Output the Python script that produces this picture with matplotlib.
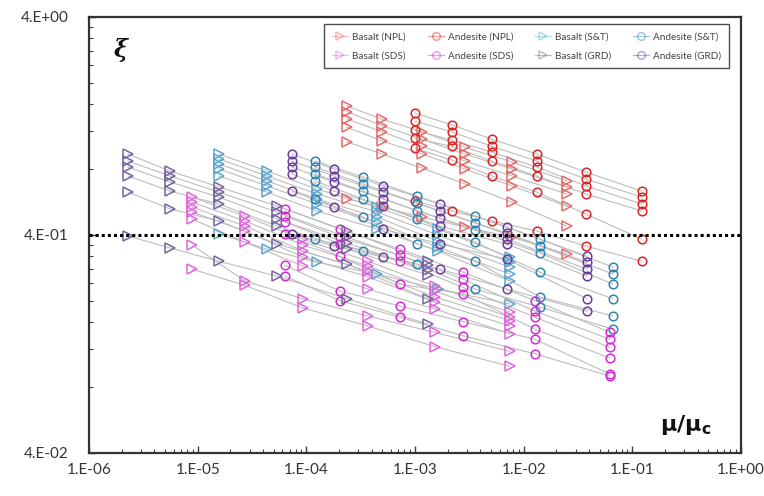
import matplotlib
matplotlib.use('Agg')
import matplotlib.pyplot as plt
from matplotlib.ticker import FixedLocator, FixedFormatter, NullFormatter
from matplotlib.lines import Line2D

# ---------------- data ----------------
npl_basalt_x = [2.37e-4, 4.97e-4, 1.16e-3, 2.88e-3, 7.78e-3, 2.49e-2]
npl_basalt_y = [
    [1.56, 1.36, 1.19, 1.01, 0.865, 0.708],
    [1.47, 1.27, 1.10, 0.941, 0.803, 0.664],
    [1.36, 1.19, 1.02, 0.874, 0.746, 0.617],
    [1.25, 1.08, 0.941, 0.803, 0.672, 0.543],
    [1.07, 0.941, 0.811, 0.686, 0.566, 0.440],
    [0.585, 0.537, 0.483, 0.435, 0.391, 0.327],
]
npl_andesite_x = [1.0e-3, 2.18e-3, 5.10e-3, 1.32e-2, 3.73e-2, 0.122]
npl_andesite_y = [
    [1.45, 1.28, 1.10, 0.941, 0.777, 0.636],
    [1.33, 1.19, 1.02, 0.874, 0.723, 0.597],
    [1.21, 1.09, 0.960, 0.820, 0.672, 0.555],
    [1.11, 1.02, 0.874, 0.746, 0.617, 0.516],
    [1.00, 0.883, 0.746, 0.629, 0.499, 0.383],
    [0.573, 0.516, 0.464, 0.417, 0.356, 0.303],
]
st_basalt_x = [1.57e-5, 4.34e-5, 1.25e-4, 4.46e-4, 1.62e-3, 7.46e-3]
st_basalt_y = [
    [0.941, 0.786, 0.650, 0.537, 0.426, 0.317],
    [0.893, 0.746, 0.617, 0.510, 0.400, 0.300],
    [0.847, 0.708, 0.585, 0.483, 0.375, 0.285],
    [0.803, 0.672, 0.555, 0.459, 0.352, 0.265],
    [0.746, 0.629, 0.516, 0.426, 0.338, 0.246],
    [0.404, 0.345, 0.300, 0.265, 0.226, 0.193],
]
st_andesite_x = [1.20e-4, 3.32e-4, 1.04e-3, 3.56e-3, 1.41e-2, 6.62e-2]
st_andesite_y = [
    [0.874, 0.738, 0.604, 0.489, 0.383, 0.285],
    [0.820, 0.686, 0.561, 0.454, 0.356, 0.265],
    [0.762, 0.636, 0.516, 0.421, 0.331, 0.238],
    [0.708, 0.585, 0.474, 0.371, 0.270, 0.204],
    [0.585, 0.483, 0.364, 0.303, 0.208, 0.170],
    [0.383, 0.338, 0.294, 0.226, 0.187, 0.148],
]
sds_basalt_x = [8.86e-6, 2.72e-5, 9.30e-5, 3.69e-4, 1.52e-3, 7.46e-3]
sds_basalt_y = [
    [0.597, 0.489, 0.383, 0.303, 0.233, 0.177],
    [0.566, 0.464, 0.360, 0.288, 0.221, 0.168],
    [0.537, 0.440, 0.338, 0.273, 0.208, 0.162],
    [0.510, 0.417, 0.317, 0.257, 0.197, 0.153],
    [0.474, 0.371, 0.288, 0.226, 0.183, 0.141],
    [0.360, 0.246, 0.204, 0.170, 0.143, 0.117],
    [0.279, 0.235, 0.185, 0.153, 0.123, 0.0999],
]
sds_andesite_x = [6.36e-5, 2.04e-4, 7.26e-4, 2.76e-3, 1.27e-2, 6.21e-2]
sds_andesite_y = [
    [0.527, 0.426, 0.345, 0.270, 0.200, 0.143],
    [0.489, 0.391, 0.323, 0.251, 0.179, 0.133],
    [0.459, 0.364, 0.303, 0.230, 0.168, 0.122],
    [0.404, 0.320, 0.238, 0.215, 0.148, 0.109],
    [0.291, 0.221, 0.189, 0.160, 0.133, 0.0921],
    [0.259, 0.200, 0.168, 0.138, 0.114, 0.0902],
]
grd_basalt_x = [2.28e-6, 5.56e-6, 1.57e-5, 5.37e-5, 2.37e-4, 1.31e-3]
grd_basalt_y = [
    [0.941, 0.786, 0.664, 0.543, 0.417, 0.303],
    [0.874, 0.746, 0.629, 0.510, 0.391, 0.291],
    [0.820, 0.700, 0.597, 0.474, 0.367, 0.276],
    [0.746, 0.636, 0.555, 0.440, 0.345, 0.262],
    [0.629, 0.527, 0.464, 0.364, 0.294, 0.204],
    [0.396, 0.349, 0.303, 0.259, 0.204, 0.156],
]
grd_andesite_x = [7.38e-5, 1.79e-4, 5.07e-4, 1.69e-3, 7.00e-3, 3.81e-2]
grd_andesite_y = [
    [0.941, 0.803, 0.672, 0.555, 0.435, 0.320],
    [0.874, 0.746, 0.629, 0.516, 0.408, 0.300],
    [0.820, 0.700, 0.585, 0.478, 0.383, 0.279],
    [0.762, 0.636, 0.543, 0.440, 0.364, 0.259],
    [0.636, 0.537, 0.426, 0.364, 0.310, 0.204],
    [0.404, 0.356, 0.317, 0.279, 0.226, 0.179],
]

labels = ['Basalt (NPL)', 'Andesite (NPL)', 'Basalt (S&T)', 'Andesite (S&T)',
          'Basalt (SDS)', 'Andesite (SDS)', 'Basalt (GRD)', 'Andesite (GRD)']
x_tick_values = [1e-6, 1e-5, 1e-4, 1e-3, 1e-2, 1e-1, 1e0]
x_tick_labels = ['1.E-06', '1.E-05', '1.E-04', '1.E-03', '1.E-02', '1.E-01', '1.E+00']
y_tick_values = [0.04, 0.4, 4.0]
y_tick_labels = ['4.E-02', '4.E-01', '4.E+00']
threshold = 0.4

series = [
    (npl_basalt_x, npl_basalt_y, '>', '#E86A6A', labels[0]),
    (npl_andesite_x, npl_andesite_y, 'o', '#DC2626', labels[1]),
    (st_basalt_x, st_basalt_y, '>', '#5AA6D2', labels[2]),
    (st_andesite_x, st_andesite_y, 'o', '#2F86B4', labels[3]),
    (sds_basalt_x, sds_basalt_y, '>', '#E066DE', labels[4]),
    (sds_andesite_x, sds_andesite_y, 'o', '#D22CD2', labels[5]),
    (grd_basalt_x, grd_basalt_y, '>', '#76659F', labels[6]),
    (grd_andesite_x, grd_andesite_y, 'o', '#6E3C9E', labels[7]),
]

plt.rcParams['font.family'] = ['Lato', 'DejaVu Sans']

fig = plt.figure(figsize=(7.64, 4.96), dpi=100)
ax = fig.add_axes([89 / 764, 43 / 496, 652 / 764, 436 / 496])
ax.set_xscale('log')
ax.set_yscale('log')
ax.set_xlim(1e-6, 1.0)
ax.set_ylim(0.04, 4.0)

handles = {}
for xs, ys, mk, col, lab in series:
    for row in ys:
        ax.plot(xs, row, color='#BDBDBD', lw=0.8, zorder=2)
    for row in ys:
        ax.plot(xs, row, linestyle='none', marker=mk,
                markersize=6.6 if mk == '>' else 6.2,
                markerfacecolor='none', markeredgecolor=col, markeredgewidth=1.1,
                zorder=3)
    handles[lab] = Line2D([], [], color=col, alpha=0.45, lw=0.9, marker=mk,
                          markersize=5.5, markerfacecolor='none',
                          markeredgecolor=col, markeredgewidth=1.1)

ax.axhline(threshold, color='black', linestyle=(0, (1, 1)), lw=2.2, zorder=4)

# ticks
ax.xaxis.set_major_locator(FixedLocator(x_tick_values))
ax.xaxis.set_major_formatter(FixedFormatter(x_tick_labels))
xminor = [m * d for d in [1e-6, 1e-5, 1e-4, 1e-3, 1e-2, 1e-1] for m in range(2, 10)]
ax.xaxis.set_minor_locator(FixedLocator(xminor))
ax.xaxis.set_minor_formatter(NullFormatter())
ax.yaxis.set_major_locator(FixedLocator(y_tick_values))
ax.yaxis.set_major_formatter(FixedFormatter(y_tick_labels))
yminor = [m * d for d in [0.04, 0.4] for m in range(2, 10)]
ax.yaxis.set_minor_locator(FixedLocator(yminor))
ax.yaxis.set_minor_formatter(NullFormatter())

ax.tick_params(which='both', direction='in', colors='#404040', labelcolor='#333333')
ax.tick_params(which='major', length=5, width=1.0, labelsize=11)
ax.tick_params(which='minor', length=3, width=0.8)
ax.tick_params(axis='x', which='major', pad=7)
ax.tick_params(axis='y', which='major', pad=15)

for sp in ax.spines.values():
    sp.set_color('#333333')
    sp.set_linewidth(1.6)

# legend (row-wise order with 4 columns)
order = [labels[0], labels[4], labels[1], labels[5], labels[2], labels[6], labels[3], labels[7]]
leg = ax.legend([handles[l] for l in order], order, ncol=4, loc='upper right',
                bbox_to_anchor=(0.99, 0.995), fontsize=7.2, frameon=True,
                fancybox=False, edgecolor='#222222', handlelength=1.6,
                handletextpad=0.4, columnspacing=2.2, borderpad=0.8,
                labelspacing=1.0)
leg.get_frame().set_linewidth(1.0)
for t in leg.get_texts():
    t.set_color('#444444')

ax.text(0.048, 0.925, 'ξ', transform=ax.transAxes, fontsize=17,
        family=['DejaVu Serif'], style='italic', fontweight='bold',
        ha='center', va='center', color='#111111')
ax.text(0.915, 0.065, r'$\mathbf{\mu/\mu_c}$', transform=ax.transAxes,
        fontsize=16, ha='center', va='center', color='#111111')

fig.savefig('out.png', dpi=100)
